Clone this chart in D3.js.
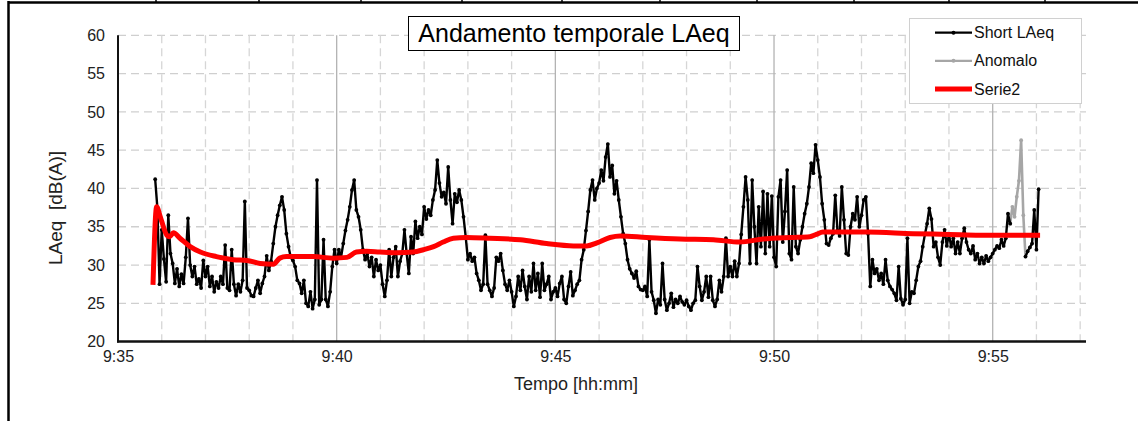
<!DOCTYPE html>
<html>
<head>
<meta charset="utf-8">
<script src="https://cdn.jsdelivr.net/npm/d3@7"></script>
<style>
  html, body { margin: 0; padding: 0; background: #fff; }
  svg { display: block; font-family: "Liberation Sans", Arial, sans-serif; }
  text { white-space: pre; }
</style>
</head>
<body>
<svg id="chart" width="1138" height="421"></svg>
<script>
// Short LAeq, one value every 3 s, starting 9:35:51 (seconds after 9:35:00)
const shortStartSec = 51;
const shortStepSec = 3;
const shortLAeq = [
  41.2, 37.5, 27.5,
  // 9:36
  34.6, 30.8, 27.8, 36.5, 31.5, 30.2, 27.6, 29.5, 27.2, 28.8, 27.6, 31, 36.1, 30, 28.5, 29.8, 27.5, 28.2, 27, 30.6,
  // 9:37
  28.5, 29.8, 27.2, 28.5, 26.5, 27.8, 27, 28.5, 27.5, 32.6, 27, 26.7, 32, 27.5, 26, 27.5, 26.5, 28, 38.3, 27,
  // 9:38
  26.7, 26, 25.9, 27, 28, 26.3, 27.6, 28.5, 31.2, 29.3, 30.5, 32.8, 35, 36.5, 37.8, 38.9, 37.2, 34.1, 32.4, 31,
  // 9:39
  30.6, 29.8, 28, 27.6, 26.3, 28, 25, 24.6, 26.5, 24.3, 25.5, 41.1, 24.8, 25.5, 33.3, 25.5, 24.6, 26.5, 29.8, 32,
  // 9:40
  30.2, 32, 31, 32.8, 34.5, 35.9, 37.6, 39.8, 41.1, 37.2, 36.3, 34.6, 32, 30.7, 31.5, 29.8, 31, 28.5, 30.7, 29.3,
  // 9:41
  30, 27.5, 25.9, 28, 32, 28.5, 31, 32.4, 28.5, 30.5, 31.5, 34.6, 31.5, 28.9, 33.7, 31.5, 35.7, 33.5, 35, 34,
  // 9:42
  37.6, 36, 37.2, 36.5, 38.5, 39.8, 43.7, 40.7, 38.9, 39.5, 38, 42.8, 38.5, 35.4, 39.3, 38.2, 39.8, 38.5, 36.3, 33.7,
  // 9:43
  30.7, 31.5, 30.5, 31, 28.9, 28, 26.7, 27.5, 33.9, 27.5, 26.7, 25.9, 27, 31, 30.5, 31.5, 29.3, 27.5, 26.7, 28,
  // 9:44
  26.5, 24.6, 25.9, 28.5, 26.7, 29.3, 27.2, 25.5, 28.5, 26.5, 30.2, 26.7, 28.9, 25.8, 30.2, 26.7, 27.5, 28.5, 25.5, 26.5,
  // 9:45
  27, 25.9, 27.6, 28.5, 25.5, 25, 27.2, 29.1, 26, 26.7, 27.5, 28, 30.7, 32, 34.5, 37, 39.8, 41.1, 38.5, 40,
  // 9:46
  40.7, 42.4, 41, 44.1, 45.8, 41.5, 43, 39.3, 41, 38.5, 36.3, 34.1, 32.8, 30.7, 29.5, 28.9, 28.3, 29.2, 27.2, 26.8,
  // 9:47
  26.7, 27.2, 25.9, 33.3, 26.5, 25.4, 23.7, 25.5, 24.8, 30.2, 25.5, 24.1, 25, 26.3, 24.5, 25.5, 25, 25.9, 25.2, 24.8,
  // 9:48
  25.4, 24.6, 24.1, 25, 25.4, 29.8, 27.2, 25.4, 26.5, 28.5, 25.8, 28.5, 25.4, 24.6, 25.5, 28, 26.5, 28.5, 33.5, 28.5,
  // 9:49
  29.8, 28.5, 30.5, 28.5, 30.2, 34, 37.6, 41.5, 38.5, 30.2, 41.1, 35, 30.2, 37.6, 32.4, 39.6, 31.5, 39.3, 32.4, 39,
  // 9:50
  31, 29.8, 38.9, 41.1, 33, 37, 42.4, 31.5, 30.7, 40.2, 32.4, 31.5, 33.3, 35, 36.7, 38, 40.2, 43.3, 42, 45.7,
  // 9:51
  43.7, 41.5, 38, 35.9, 32.8, 32.6, 33.5, 34.1, 39.1, 34.5, 33.8, 40.2, 35.9, 31.5, 31.3, 35, 36.7, 35.9, 38.9, 35,
  // 9:52
  36.5, 38.5, 38.9, 34.1, 27.2, 30.7, 28.9, 29.5, 28, 28.9, 27.5, 30.7, 28, 27.2, 26.8, 26.3, 25.4, 29.8, 25.6, 24.8,
  // 9:53
  25.5, 33.5, 25, 26.5, 26.3, 28, 29.8, 30.5, 32.4, 34, 35.4, 37.4, 36, 32.4, 33, 31, 30, 33, 34.6, 32.5,
  // 9:54
  34, 32.4, 33.5, 31.5, 33, 31.5, 33.5, 34.8, 33, 32, 31.5, 32.5, 30.7, 31.5, 30.2, 31, 30.2, 31.2, 30.5, 31,
  // 9:55 (gap while the anomalous segment is running)
  31.5, 32, 32.5, 32.2, 33.3, 32.5, 33.5, 36.7, 35.4, null, null, null, null, null, null, 31.1, 31.8, 32.3, 32.8, 37.2,
  // 9:56
  32, 39.9
];

// Anomalous segment, same 3 s step
const anomaloStartSec = 1224;
const anomalo = [35.4, 37.6, 36.3, 38.9, 41, 46.3, 36.5, 31.1];

// Running LAeq (Serie2): seconds after 9:35:00 and level
const serie2Sec = [48, 53, 58, 60, 67, 71, 76, 85, 99, 113, 135, 158, 177, 195, 213, 222, 231, 268, 295, 314,
  327, 341, 359, 382, 405, 419, 433, 446, 460, 478, 510, 552, 588, 625, 643, 657, 675, 689, 725, 771,
  817, 853, 885, 922, 949, 958, 967, 1027, 1091, 1141, 1182, 1265];
const serie2 = [27.4, 37.6, 36.3, 35.7, 33.9, 33.7, 34.2, 33.5, 32.4, 31.7, 31.1, 30.7, 30.6, 30.2, 30.1, 30.9, 31.1, 31.1, 30.9, 31.0,
  31.7, 31.8, 31.7, 31.6, 31.7, 32.0, 32.4, 33.0, 33.5, 33.6, 33.5, 33.3, 32.8, 32.5, 32.5, 32.9, 33.6, 33.8, 33.6, 33.4,
  33.3, 33.0, 33.4, 33.6, 33.7, 34.0, 34.3, 34.3, 34.1, 34.0, 33.9, 33.9];

// Axis ticks
const yTicks = [20, 25, 30, 35, 40, 45, 50, 55, 60];
const xMajorLabels = ["9:35", "9:40", "9:45", "9:50", "9:55"];
const xMajorSec = [0, 300, 600, 900, 1200];
const xMinorSec = d3.range(60, 1321, 60).filter(s => s % 300 !== 0);

const legendNames = ["Short LAeq", "Anomalo", "Serie2"];
const titleText = "Andamento temporale LAeq";

// ---- layout ----
const svg = d3.select("#chart");
const plot = { left: 118, right: 1086, top: 35.3, bottom: 341.6 };
const x = d3.scaleLinear().domain([0, 1328]).range([plot.left, plot.right]);
const y = d3.scaleLinear().domain([20, 60]).range([plot.bottom, plot.top]);

// page frame (table border above and to the left)
const frameCols = [156, 259, 361, 462, 562, 660, 757, 854, 949, 1045];
svg.append("line").attr("x1", 8).attr("x2", 1138).attr("y1", 2.5).attr("y2", 2.5)
  .attr("stroke", "#000").attr("stroke-width", 2.5);
svg.append("line").attr("x1", 8.5).attr("x2", 8.5).attr("y1", 1).attr("y2", 421)
  .attr("stroke", "#000").attr("stroke-width", 2.5);
svg.selectAll(".fcol").data(frameCols).enter().append("line")
  .attr("x1", d => d).attr("x2", d => d).attr("y1", 0).attr("y2", 3)
  .attr("stroke", "#000").attr("stroke-width", 1.5);

// grid
const grid = svg.append("g");
grid.selectAll(".hg").data(yTicks.filter(v => v > 20)).enter().append("line")
  .attr("x1", plot.left).attr("x2", plot.right)
  .attr("y1", d => y(d)).attr("y2", d => y(d))
  .attr("stroke", "#cfcfcf").attr("stroke-width", 1.3).attr("stroke-dasharray", "8,5");
grid.selectAll(".vg").data(xMinorSec).enter().append("line")
  .attr("x1", d => x(d)).attr("x2", d => x(d))
  .attr("y1", plot.top).attr("y2", plot.bottom)
  .attr("stroke", "#d6d6d6").attr("stroke-width", 1.3).attr("stroke-dasharray", "8,5");
grid.selectAll(".vm").data(xMajorSec.slice(1)).enter().append("line")
  .attr("x1", d => x(d)).attr("x2", d => x(d))
  .attr("y1", plot.top).attr("y2", plot.bottom)
  .attr("stroke", "#b3b3b3").attr("stroke-width", 1.3);

// axes
const yAxis = d3.axisLeft(y).tickValues(yTicks).tickSize(0).tickPadding(13);
const gy = svg.append("g").attr("transform", `translate(${plot.left},0)`).call(yAxis);
gy.select(".domain").remove();
gy.selectAll("text").attr("font-size", 16).attr("fill", "#222")
  .attr("font-family", "Liberation Sans, Arial, sans-serif");

const xAxis = d3.axisBottom(x).tickValues(xMajorSec).tickSize(0).tickPadding(9)
  .tickFormat((d, i) => xMajorLabels[i]);
const gx = svg.append("g").attr("transform", `translate(0,${plot.bottom})`).call(xAxis);
gx.select(".domain").remove();
gx.selectAll("text").attr("font-size", 16).attr("fill", "#222")
  .attr("font-family", "Liberation Sans, Arial, sans-serif");

svg.append("line").attr("x1", plot.left).attr("x2", plot.left)
  .attr("y1", plot.top).attr("y2", plot.bottom + 1)
  .attr("stroke", "#111").attr("stroke-width", 2);
svg.append("line").attr("x1", plot.left - 1).attr("x2", plot.right)
  .attr("y1", plot.bottom).attr("y2", plot.bottom)
  .attr("stroke", "#111").attr("stroke-width", 2.5);

// axis titles
svg.append("text").attr("transform", "translate(62,208) rotate(-90)")
  .attr("text-anchor", "middle").attr("font-size", 19).attr("fill", "#222")
  .text("LAeq  [dB(A)]");
svg.append("text").attr("x", 576).attr("y", 390)
  .attr("text-anchor", "middle").attr("font-size", 18).attr("fill", "#222")
  .text("Tempo [hh:mm]");

// series
const shortPts = shortLAeq.map((v, i) => ({ s: shortStartSec + i * shortStepSec, v }));
const anomPts = anomalo.map((v, i) => ({ s: anomaloStartSec + i * shortStepSec, v }));
const redPts = serie2Sec.map((s, i) => ({ s, v: serie2[i] }));

const line = d3.line().defined(d => d.v !== null).x(d => x(d.s)).y(d => y(d.v));

svg.append("path").datum(anomPts).attr("d", line)
  .attr("fill", "none").attr("stroke", "#a6a6a6").attr("stroke-width", 2.6)
  .attr("stroke-linejoin", "round");
svg.selectAll(".ad").data(anomPts).enter().append("circle")
  .attr("cx", d => x(d.s)).attr("cy", d => y(d.v)).attr("r", 1.9).attr("fill", "#a6a6a6");

svg.append("path").datum(shortPts).attr("d", line)
  .attr("fill", "none").attr("stroke", "#000").attr("stroke-width", 2.4)
  .attr("stroke-linejoin", "round");
svg.selectAll(".sd").data(shortPts.filter(d => d.v !== null)).enter().append("circle")
  .attr("cx", d => x(d.s)).attr("cy", d => y(d.v)).attr("r", 1.9).attr("fill", "#000");

svg.append("path").datum(redPts)
  .attr("d", d3.line().x(d => x(d.s)).y(d => y(d.v)).curve(d3.curveMonotoneX))
  .attr("fill", "none").attr("stroke", "#ff0000").attr("stroke-width", 5)
  .attr("stroke-linejoin", "round");

// title box
const tg = svg.append("g");
tg.append("rect").attr("x", 408.5).attr("y", 16.5).attr("width", 331).attr("height", 34)
  .attr("fill", "#fff").attr("stroke", "#000").attr("stroke-width", 1);
tg.append("text").attr("x", 574).attr("y", 42).attr("text-anchor", "middle")
  .attr("font-size", 25).attr("fill", "#000").text(titleText);

// legend
const lg = svg.append("g");
lg.append("rect").attr("x", 909.5).attr("y", 18.5).attr("width", 172).attr("height", 85)
  .attr("fill", "#fff").attr("stroke", "#d0d0d0").attr("stroke-width", 1);
const legendStyle = [
  { color: "#000", width: 2.2, dot: true },
  { color: "#a6a6a6", width: 2.2, dot: true },
  { color: "#ff0000", width: 5, dot: false }
];
const legendRowY = d3.scalePoint().domain(legendNames).range([32.7, 89]);
legendNames.forEach((name, i) => {
  const ly = legendRowY(name);
  const st = legendStyle[i];
  lg.append("line").attr("x1", 935).attr("x2", 972).attr("y1", ly).attr("y2", ly)
    .attr("stroke", st.color).attr("stroke-width", st.width);
  if (st.dot) lg.append("circle").attr("cx", 953.5).attr("cy", ly).attr("r", 2).attr("fill", st.color);
  lg.append("text").attr("x", 974).attr("y", ly).attr("dy", "0.35em")
    .attr("font-size", 16).attr("fill", "#111").text(name);
});
</script>
</body>
</html>
